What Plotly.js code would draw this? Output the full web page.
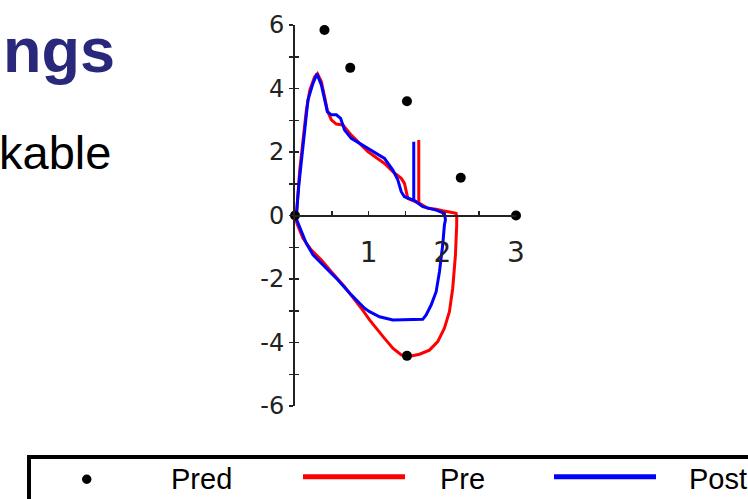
<!DOCTYPE html>
<html>
<head>
<meta charset="utf-8">
<script src="https://cdn.plot.ly/plotly-3.0.1.min.js"></script>
<style>html,body{margin:0;padding:0;background:#fff;}#chart{width:748px;height:499px;}</style>
</head>
<body>
<div id="chart"></div>
<script>
// ---- data ----
const predX = [0, 0.40, 0.75, 1.52, 2.25, 3.0, 1.52];
const predY = [0, 5.84, 4.65, 3.60, 1.19, 0, -4.42];

const preX = [0, 0.02, 0.064, 0.108, 0.154, 0.2, 0.266, 0.305, 0.358, 0.402, 0.440, 0.493, 0.561, 0.65, 0.764, 0.989, 1.215, 1.328, 1.442, 1.486, 1.509, 1.531, 1.667, 1.68, 1.68, 1.68, 1.802, 1.916, 2.005, 2.096, 2.187, 2.195, 2.195, 2.178, 2.141, 2.096, 2.028, 1.938, 1.825, 1.69, 1.531, 1.442, 1.328, 1.215, 1.103, 1.012, 0.9, 0.673, 0.493, 0.358, 0.222, 0.108, 0.027, 0];
const preY = [0, 0.02, 1.43, 2.27, 3.32, 3.94, 4.37, 4.47, 4.21, 3.74, 3.30, 3.01, 2.88, 2.85, 2.53, 2.01, 1.64, 1.38, 1.17, 1.01, 0.75, 0.54, 0.40, 0.40, 2.38, 0.40, 0.23, 0.20, 0.15, 0.12, 0.07, -0.04, -0.30, -1.24, -2.29, -3.03, -3.55, -3.97, -4.24, -4.37, -4.45, -4.39, -4.18, -3.87, -3.55, -3.29, -2.92, -2.24, -1.77, -1.40, -1.09, -0.72, -0.25, 0];

const postX = [0, 0.019, 0.05, 0.087, 0.131, 0.176, 0.244, 0.298, 0.358, 0.402, 0.439, 0.493, 0.561, 0.619, 0.673, 0.764, 0.989, 1.215, 1.328, 1.396, 1.442, 1.486, 1.599, 1.612, 1.612, 1.612, 1.734, 1.916, 2.028, 2.042, 2.028, 2.005, 1.961, 1.916, 1.848, 1.78, 1.734, 1.328, 1.148, 1.012, 0.944, 0.764, 0.583, 0.402, 0.244, 0.154, 0.087, 0.027, 0];
const postY = [0, 0.02, 0.91, 1.75, 2.80, 3.64, 4.16, 4.46, 4.11, 3.64, 3.27, 3.17, 3.17, 3.06, 2.69, 2.43, 2.12, 1.80, 1.43, 1.12, 0.75, 0.59, 0.49, 0.49, 2.32, 0.49, 0.28, 0.17, 0.07, -0.14, -0.30, -0.93, -1.77, -2.40, -2.82, -3.13, -3.27, -3.29, -3.19, -3.03, -2.92, -2.50, -2.03, -1.61, -1.24, -0.88, -0.51, -0.14, 0];

const xTickVals = [0.5, 1, 1.5, 2, 2.5, 3];
const xTickText = ['', '1', '', '2', '', '3'];
const yTickVals = [-6, -5, -4, -3, -2, -1, 0, 1, 2, 3, 4, 5, 6];
const yTickText = ['-6', '', '-4', '', '-2', '', '0', '', '2', '', '4', '', '6'];

const seriesNames = ['Pred', 'Pre', 'Post'];
const seriesColors = ['#000000', '#ff0000', '#0000ff'];
const slideTitle = 'ngs';
const slideBody = 'kable';

// ---- layout geometry (pixels) ----
const W = 748, H = 499;
const M = {l: 295, r: 232, t: 25, b: 93};
const PW = W - M.l - M.r, PH = H - M.t - M.b;
const px2x = p => (p - M.l) / PW;
const py2y = p => 1 - (p - M.t) / PH;

const traces = [
  {x: preX, y: preY, name: seriesNames[1], mode: 'lines', type: 'scatter',
   line: {color: seriesColors[1], width: 3}, showlegend: false, hoverinfo: 'skip'},
  {x: postX, y: postY, name: seriesNames[2], mode: 'lines', type: 'scatter',
   line: {color: seriesColors[2], width: 3}, showlegend: false, hoverinfo: 'skip'},
  {x: predX, y: predY, name: seriesNames[0], mode: 'markers', type: 'scatter',
   marker: {color: seriesColors[0], size: 10}, cliponaxis: false, showlegend: false, hoverinfo: 'skip'},
  {x: [], y: [], yaxis: 'y2', type: 'scatter', mode: 'markers', showlegend: false, hoverinfo: 'skip'}
];

const legFont = {family: 'Liberation Sans, Arial, sans-serif', size: 29, color: '#000'};
const legMidY = 479.2;

const layout = {
  width: W, height: H,
  margin: M,
  paper_bgcolor: '#fff', plot_bgcolor: 'rgba(0,0,0,0)',
  showlegend: false,
  xaxis: {
    range: [0, 3], anchor: 'free', position: 0.5,
    showgrid: false, zeroline: false,
    showline: true, linecolor: '#222', linewidth: 2,
    ticks: 'inside', ticklen: 4, tickwidth: 1.5, tickcolor: '#222',
    tickmode: 'array', tickvals: xTickVals, ticktext: xTickText,
    tickfont: {family: 'DejaVu Sans, sans-serif', size: 28, color: '#222'},
    ticklabelstandoff: 12
  },
  yaxis: {
    range: [-6, 6], anchor: 'x', side: 'left',
    showgrid: false, zeroline: false,
    showline: true, linecolor: '#222', linewidth: 2,
    ticks: 'outside', ticklen: 4, tickwidth: 1.5, tickcolor: '#222',
    tickmode: 'array', tickvals: yTickVals, ticktext: yTickText,
    tickfont: {family: 'DejaVu Sans, sans-serif', size: 24, color: '#222'}
  },
  yaxis2: {
    range: [-6, 6], overlaying: 'y', anchor: 'x', side: 'left',
    showgrid: false, zeroline: false, showline: false,
    ticks: 'inside', ticklen: 4, tickwidth: 1.5, tickcolor: '#222',
    tickmode: 'array', tickvals: yTickVals, showticklabels: false
  },
  shapes: [
    {type: 'rect', xref: 'paper', yref: 'paper',
     x0: px2x(29), x1: px2x(820), y0: py2y(457), y1: py2y(560),
     line: {color: '#000', width: 4}, fillcolor: 'rgba(0,0,0,0)'},
    {type: 'circle', xref: 'paper', yref: 'paper',
     x0: px2x(82), x1: px2x(91.5), y0: py2y(474.5), y1: py2y(484),
     line: {color: seriesColors[0], width: 0}, fillcolor: seriesColors[0]},
    {type: 'line', xref: 'paper', yref: 'paper',
     x0: px2x(303), x1: px2x(405), y0: py2y(476.7), y1: py2y(476.7),
     line: {color: seriesColors[1], width: 5}},
    {type: 'line', xref: 'paper', yref: 'paper',
     x0: px2x(554), x1: px2x(656), y0: py2y(476.7), y1: py2y(476.7),
     line: {color: seriesColors[2], width: 5}}
  ],
  annotations: [
    {text: '<b>' + slideTitle + '</b>', xref: 'paper', yref: 'paper', showarrow: false,
     x: px2x(1), y: py2y(72 - 0.347 * 63), xanchor: 'left', yanchor: 'middle',
     font: {family: 'Liberation Sans, Arial, sans-serif', size: 63, color: '#29287a'}},
    {text: slideBody, xref: 'paper', yref: 'paper', showarrow: false,
     x: px2x(-3), y: py2y(169 - 0.347 * 47), xanchor: 'left', yanchor: 'middle',
     font: {family: 'Liberation Sans, Arial, sans-serif', size: 47, color: '#000'}},
    {text: seriesNames[0], xref: 'paper', yref: 'paper', showarrow: false,
     x: px2x(168.5), y: py2y(legMidY), xanchor: 'left', yanchor: 'middle', font: legFont},
    {text: seriesNames[1], xref: 'paper', yref: 'paper', showarrow: false,
     x: px2x(437.5), y: py2y(legMidY), xanchor: 'left', yanchor: 'middle', font: legFont},
    {text: seriesNames[2], xref: 'paper', yref: 'paper', showarrow: false,
     x: px2x(687), y: py2y(legMidY), xanchor: 'left', yanchor: 'middle', font: legFont}
  ]
};

Plotly.newPlot('chart', traces, layout, {staticPlot: true, displayModeBar: false});
</script>
</body>
</html>
